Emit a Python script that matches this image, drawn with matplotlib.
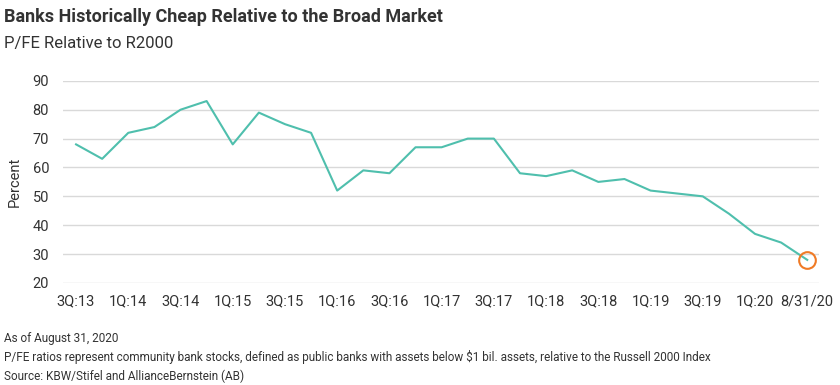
import matplotlib
matplotlib.use("Agg")
import matplotlib.pyplot as plt

plt.rcParams['font.family'] = ['Liberation Sans Narrow', 'Roboto', 'DejaVu Sans']

# Datos
quarters = ['3Q:13', '4Q:13', '1Q:14', '2Q:14', '3Q:14', '4Q:14', '1Q:15', '2Q:15',
            '3Q:15', '4Q:15', '1Q:16', '2Q:16', '3Q:16', '4Q:16', '1Q:17', '2Q:17',
            '3Q:17', '4Q:17', '1Q:18', '2Q:18', '3Q:18', '4Q:18', '1Q:19', '2Q:19',
            '3Q:19', '4Q:19', '1Q:20', '2Q:20', '8/31/20']
pfe_relative = [68, 63, 72, 74, 80, 83, 68, 79, 75, 72, 52, 59, 58, 67, 67, 70,
                70, 58, 57, 59, 55, 56, 52, 51, 50, 44, 37, 34, 28]
yticks = [20, 30, 40, 50, 60, 70, 80, 90]

teal = '#4fbfad'
orange = '#f07a25'
text_color = '#333333'

fig = plt.figure(figsize=(8.4, 3.85), dpi=100)
ax = fig.add_axes([0.075, 0.265, 0.900, 0.525])

x = list(range(len(quarters)))
ax.plot(x, pfe_relative, color=teal, linewidth=1.5, zorder=3)
ax.plot(x[-1], pfe_relative[-1], marker='o', markersize=12, markerfacecolor='none',
        markeredgecolor=orange, markeredgewidth=1.5, zorder=4)

ax.set_xlim(-0.5, len(quarters) - 0.55)
ax.set_ylim(20, 90)
ax.set_yticks(yticks)
ax.set_xticks(x[::2])
ax.set_xticklabels(quarters[::2])
ax.tick_params(axis='both', length=0, labelsize=10.5, colors=text_color)
ax.tick_params(axis='x', pad=8)
ax.tick_params(axis='y', pad=10)
ax.grid(axis='y', color='#d9d9d9', linewidth=1)
ax.set_axisbelow(True)
for s in ax.spines.values():
    s.set_visible(False)
ax.set_ylabel('Percent', fontsize=10.5, color=text_color, labelpad=8)

fig.text(0.005, 0.955, 'Banks Historically Cheap Relative to the Broad Market',
         fontsize=13, fontweight='bold', color=text_color, va='center')
fig.text(0.005, 0.888, 'P/FE Relative to R2000', fontsize=12, color=text_color, va='center')

fig.text(0.005, 0.122, 'As of August 31, 2020', fontsize=8.5, color=text_color, va='center')
fig.text(0.005, 0.073, 'P/FE ratios represent community bank stocks, defined as public banks with assets '
         'below $1 bil. assets, relative to the Russell 2000 Index', fontsize=8.5,
         color=text_color, va='center')
fig.text(0.005, 0.023, 'Source: KBW/Stifel and AllianceBernstein (AB)', fontsize=8.5,
         color=text_color, va='center')

fig.savefig('out.png', dpi=100)
